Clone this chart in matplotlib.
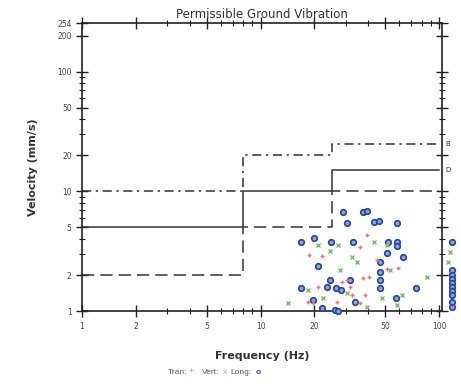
import numpy as np
import matplotlib.pyplot as plt
from matplotlib.ticker import FixedLocator, NullFormatter

# Limit lines (step curves)
lim_f = [1, 8, 8, 25, 25, 100]
lim_dash = [2, 2, 5, 5, 10, 10]
lim_solid = [5, 5, 10, 10, 15, 15]
lim_dashdot = [10, 10, 20, 20, 25, 25]

# Tran (+)
tran_f = [39.4, 36.0, 18.8, 22.0, 44.9, 58.8, 51.0, 28.5, 30.4, 20.9, 37.4, 40.4,
          31.6, 18.4, 19.6, 26.7, 36.0, 32.5, 38.4]
tran_v = [4.3, 3.41, 2.93, 2.87, 2.66, 2.28, 2.24, 1.74, 1.81, 1.58, 1.88, 1.92,
          1.58, 1.19, 1.17, 1.19, 1.17, 1.36, 1.36]

# Vert (x)
vert_f = [20.9, 24.4, 27.1, 32.5, 34.6, 43.1, 51.0, 53.0, 27.8, 18.4, 22.3, 14.2,
          47.9, 62.0, 85.7, 112, 115, 58.0, 39.4, 30.4]
vert_v = [3.55, 3.16, 3.55, 2.82, 2.56, 3.76, 3.55, 2.20, 2.20, 1.50, 1.28, 1.17,
          1.28, 1.36, 1.92, 2.56, 3.10, 1.12, 1.08, 1.41]

# Long (o)
long_f = [28.9, 37.4, 39.4, 30.4, 43.1, 46.0, 58.0, 16.8, 19.9, 24.7, 32.9, 51.7,
          58.0, 58.0, 51.0, 62.8, 20.9, 46.7, 46.7, 31.6, 24.4, 23.5, 26.4, 28.1,
          16.8, 46.7, 46.7, 74.3, 57.3, 33.7, 19.6, 26.0, 27.1, 22.0, 118, 118,
          118, 118, 118, 118, 118, 118, 118, 118]
long_v = [6.7, 6.7, 6.8, 5.4, 5.5, 5.7, 5.4, 3.76, 4.1, 3.76, 3.76, 3.76,
          3.76, 3.48, 3.04, 2.82, 2.37, 2.56, 2.11, 1.81, 1.81, 1.58, 1.56, 1.50,
          1.56, 1.81, 1.56, 1.56, 1.28, 1.19, 1.24, 1.02, 1.0, 1.06, 3.76, 2.20,
          2.0, 1.85, 1.72, 1.60, 1.48, 1.36, 1.20, 1.08]

fig = plt.figure(figsize=(4.61, 3.86), dpi=100)
ax = fig.add_axes([0.178, 0.194, 0.781, 0.746])
ax.set_xscale('log')
ax.set_yscale('log')
ax.set_xlim(1, 104)
ax.set_ylim(1, 254)

lc = '#333333'
ax.plot(lim_f, lim_dash, color=lc, lw=1.1, dashes=(8, 4))
ax.plot(lim_f, lim_solid, color=lc, lw=1.1)
ax.plot(lim_f, lim_dashdot, color=lc, lw=1.1, dashes=(6, 3, 1.5, 3))
ax.text(108, 25, 'B', fontsize=5, color='#333333', va='center', clip_on=False)
ax.text(108, 15, 'D', fontsize=5, color='#333333', va='center', clip_on=False)

ax.plot(long_f, long_v, 'o', ms=4, mfc='#8aa4dc', mec='#23449f', mew=1.2,
        clip_on=False, zorder=3)
ax.plot(vert_f, vert_v, 'x', ms=3.5, color='#7cbc66', mew=1.0, clip_on=False, zorder=4)
ax.plot(tran_f, tran_v, '+', ms=3.5, color='#e87272', mew=1.0, clip_on=False, zorder=4)

xt = [1, 2, 5, 10, 20, 50, 100]
yt = [1, 2, 5, 10, 20, 50, 100, 200, 254]
ax.xaxis.set_major_locator(FixedLocator(xt))
ax.set_xticklabels([str(v) for v in xt])
ax.yaxis.set_major_locator(FixedLocator(yt))
ax.set_yticklabels([str(v) for v in yt])
ax.xaxis.set_minor_formatter(NullFormatter())
ax.yaxis.set_minor_formatter(NullFormatter())
ax.tick_params(which='both', direction='inout', top=True, right=True,
               labelsize=5.5, labelcolor='#444444', color='#222222')
ax.tick_params(which='major', length=8, width=1)
ax.tick_params(which='minor', length=4, width=0.8)
for s in ax.spines.values():
    s.set_color('#222222')
    s.set_linewidth(1.2)

ax.set_title('Permissible Ground Vibration', fontsize=8.5, pad=4, color='#333333')
ax.set_ylabel('Velocity (mm/s)', fontsize=8, fontweight='bold', color='#333333', labelpad=14)
ax.set_xlabel('Frequency (Hz)', fontsize=8, fontweight='bold', color='#333333', labelpad=15)

# legend line
fy = 1 - 372 / 386
tc = '#555555'
lf = dict(fontsize=6, family='Liberation Sans', va='center')
fig.text(187 / 461, fy, 'Tran:', color=tc, ha='right', **lf)
fig.text(191 / 461, fy, '+', color='#e87272', ha='center', **lf)
fig.text(219 / 461, fy, 'Vert:', color=tc, ha='right', **lf)
fig.text(225 / 461, fy, 'x', color='#7cbc66', ha='center', **lf)
fig.text(252 / 461, fy, 'Long:', color=tc, ha='right', **lf)
fig.text(258 / 461, fy, 'o', color='#23449f', ha='center', fontweight='bold', **lf)

fig.savefig('out.png', dpi=100)
